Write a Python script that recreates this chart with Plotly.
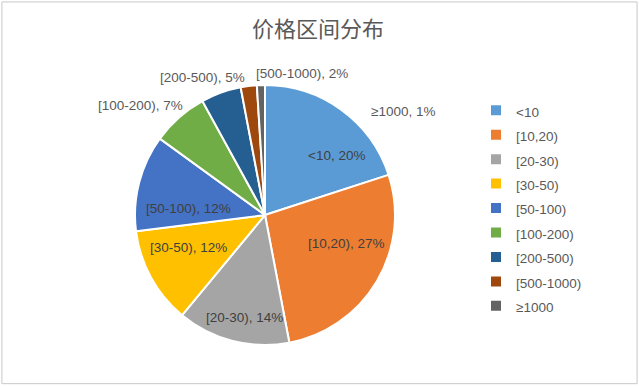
import plotly.graph_objects as go

categories = ["<10", "[10,20)", "[20-30)", "[30-50)", "[50-100)", "[100-200)", "[200-500)", "[500-1000)", "≥1000"]
shares = [20, 27, 14, 12, 12, 7, 5, 2, 1]
colors = ["#5B9BD5", "#ED7D31", "#A5A5A5", "#FFC000", "#4472C4", "#70AD47", "#255E91", "#9E480E", "#636363"]
title_text = "价格区间分布"

W, H = 639, 386
cx, cy, R = 265, 215, 130
FONT = "Liberation Sans, Arial"

# legend labels: small text inside a taller legend line to mimic spacing
legend_labels = [f"<span style='font-size:13.5px'>{c}</span>" for c in categories]

fig = go.Figure(go.Pie(
    labels=legend_labels,
    values=shares,
    sort=False,
    direction="clockwise",
    rotation=0,
    marker=dict(colors=colors, line=dict(color="white", width=2)),
    textinfo="none",
    domain=dict(x=[(cx - R) / W, (cx + R) / W], y=[(H - cy - R) / H, (H - cy + R) / H]),
    hoverinfo="label+percent",
))

# data label positions (pixels)
label_xy = [(337, 155), (346, 243), (244, 317), (188, 247), (188, 208),
            (140, 105), (203, 77), (302, 73), (403, 111)]
annotations = []
for i, (px, py) in enumerate(label_xy):
    annotations.append(dict(
        x=px / W, y=1 - py / H, xref="paper", yref="paper",
        text=f"{categories[i]}, {shares[i]}%", showarrow=False,
        font=dict(family=FONT, size=13.5, color="#404040" if i < 5 else "#595959"),
        xanchor="center", yanchor="middle",
    ))
annotations.append(dict(
    x=318 / W, y=1 - 27 / H, xref="paper", yref="paper", text=title_text,
    showarrow=False, font=dict(family="Noto Sans CJK SC", size=22, color="#595959"),
    xanchor="center", yanchor="middle",
))

fig.update_layout(
    width=W, height=H,
    margin=dict(l=0, r=0, t=0, b=0),
    paper_bgcolor="white",
    showlegend=True,
    legend=dict(x=476 / W, y=1 - 93 / H, xanchor="left", yanchor="top",
                font=dict(family=FONT, size=16.5, color="#595959"),
                bgcolor="rgba(0,0,0,0)"),
    annotations=annotations,
    shapes=[dict(type="rect", xref="paper", yref="paper", x0=0.003, y0=0.006, x1=0.997, y1=0.995,
                 line=dict(color="#C8C8C8", width=1))],
)

fig.write_html("out.html", config={"displayModeBar": False},
               post_script="document.body.style.margin='0';document.body.style.overflow='hidden';")
